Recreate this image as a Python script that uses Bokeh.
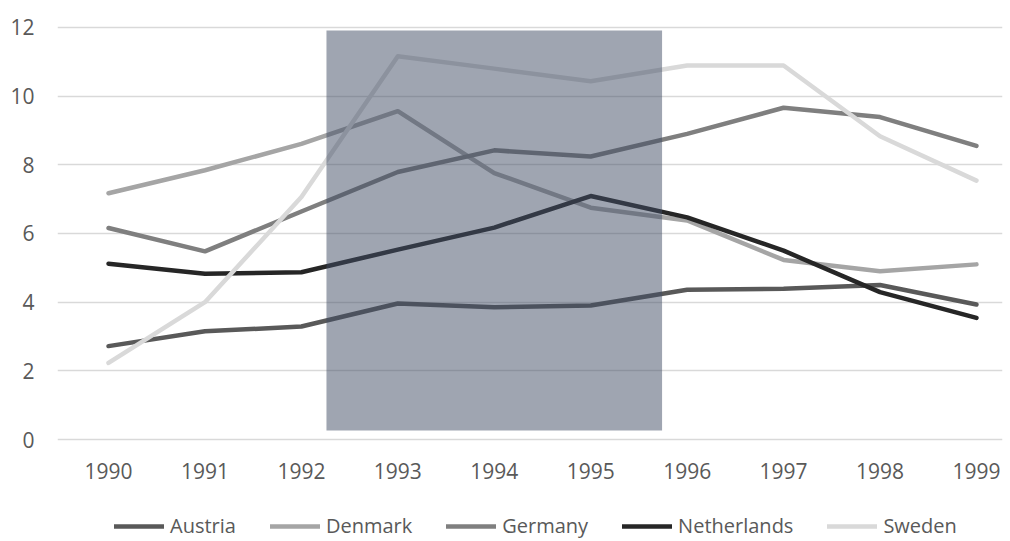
from bokeh.plotting import figure
from bokeh.layouts import column
from bokeh.models import Legend, LegendItem, Range1d, FixedTicker
from bokeh.embed import file_html
from bokeh.resources import INLINE

years = [1990, 1991, 1992, 1993, 1994, 1995, 1996, 1997, 1998, 1999]
x_labels = [str(y) for y in years]
austria = [2.72, 3.15, 3.29, 3.96, 3.85, 3.90, 4.36, 4.39, 4.50, 3.93]
denmark = [7.17, 7.84, 8.61, 9.56, 7.76, 6.75, 6.38, 5.23, 4.90, 5.10]
germany = [6.16, 5.48, 6.64, 7.79, 8.42, 8.24, 8.90, 9.66, 9.39, 8.55]
netherlands = [5.12, 4.83, 4.87, 5.53, 6.17, 7.09, 6.47, 5.50, 4.29, 3.54]
sweden = [2.23, 4.00, 7.06, 11.16, 10.80, 10.43, 10.89, 10.89, 8.83, 7.54]
y_ticks = [0, 2, 4, 6, 8, 10, 12]
highlight_x = [1992.26, 1995.74]
highlight_y = [0.26, 11.91]

series = [
    ("Austria", austria, "#595959"),
    ("Denmark", denmark, "#a5a5a5"),
    ("Germany", germany, "#7f7f7f"),
    ("Netherlands", netherlands, "#262626"),
    ("Sweden", sweden, "#d9d9d9"),
]

FONT = "Open Sans"
TXT = "#595959"

p = figure(width=1008, height=490, output_backend="svg", toolbar_location=None,
           x_range=Range1d(1989.471, 1999.270), y_range=Range1d(-0.058, 12.26),
           min_border_left=57, min_border_right=6, min_border_top=18, min_border_bottom=49)
p.outline_line_color = None
p.background_fill_color = "white"
p.border_fill_color = "white"

p.xgrid.grid_line_color = None
p.ygrid.grid_line_color = "#d9d9d9"
p.ygrid.grid_line_width = 1.4
p.yaxis.ticker = FixedTicker(ticks=y_ticks)
p.xaxis.ticker = FixedTicker(ticks=years)
p.xaxis.major_label_overrides = {y: l for y, l in zip(years, x_labels)}

for ax in (p.xaxis, p.yaxis):
    ax.axis_line_color = None
    ax.major_tick_line_color = None
    ax.minor_tick_line_color = None
    ax.major_label_text_font = FONT
    ax.major_label_text_font_size = "21px"
    ax.major_label_text_color = TXT
p.xaxis.major_label_standoff = 15
p.yaxis.major_label_standoff = 17

for name, vals, col in series:
    p.line(years, vals, line_color=col, line_width=4.5, line_cap="round", line_join="round")

p.quad(left=highlight_x[0], right=highlight_x[1], bottom=highlight_y[0], top=highlight_y[1],
       fill_color="#3f4c64", fill_alpha=0.5, line_color=None)

# legend strip below the chart (its series lie outside this strip's visible range)
lg = figure(width=1008, height=51, output_backend="svg", toolbar_location=None,
            x_range=Range1d(0, 1), y_range=Range1d(0, 1),
            min_border_left=0, min_border_right=0, min_border_top=0, min_border_bottom=0)
lg.axis.visible = False
lg.grid.visible = False
lg.outline_line_color = None
lg.background_fill_color = "white"
lg.border_fill_color = "white"

items = []
for name, vals, col in series:
    r = lg.line(years, vals, line_color=col, line_width=4.5, line_cap="round")
    items.append(LegendItem(label=name, renderers=[r]))

legend = Legend(items=items, orientation="horizontal", location=(57, 2),
                glyph_width=50, glyph_height=20, label_height=20, label_standoff=6, spacing=34,
                padding=0, margin=0, border_line_color=None, background_fill_alpha=0,
                label_text_font=FONT, label_text_font_size="20px", label_text_color=TXT)
lg.add_layout(legend, "center")

layout = column(p, lg, spacing=0)
open("out.html", "w").write(file_html(layout, INLINE))
